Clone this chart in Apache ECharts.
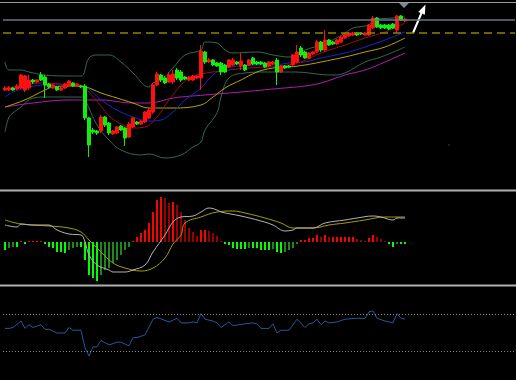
<!DOCTYPE html>
<html><head><meta charset="utf-8">
<script src="https://cdn.jsdelivr.net/npm/echarts@6/dist/echarts.min.js"></script>
<style>html,body{margin:0;padding:0;background:#000;}#c{width:516px;height:380px;}</style>
</head><body><div id="c"></div>
<script>
// ---- data (unlabelled price scale) ----
const slotCount = 128;
const categories = Array.from({length: slotCount}, (_, i) => 'B' + (i + 1));

// candles: [open, close, low, high]
const ohlc = [
[100,102,99,104],[100,102,99,104],[102,100,99,103],[101,104,100,106],[102,115,101,116],
[100,114,98,115],[102,110,100,115],[110,108,106,111],[108,110,107,111],[115,110,109,118],
[113,105,92,115],[106,103,102,107],[102,105,101,106],[103,100,99,104],[100,102,99,103],
[102,106,101,107],[104,109,103,110],[107,104,103,108],[104,106,103,107],[104,103,102,105],
[104,72,70,106],[72,45,33,73],[60,58,56,62],[59,57,55,60],[59,73,57,75],
[73,65,63,74],[67,57,55,68],[56,59,55,60],[57,63,56,64],[64,60,59,65],
[62,52,44,63],[53,66,52,68],[63,72,62,73],[68,66,65,69],[66,69,65,70],
[68,78,67,79],[72,80,71,82],[78,105,76,107],[105,116,104,118],[115,110,108,116],
[112,107,106,114],[108,115,107,118],[108,116,106,120],[120,112,110,122],[118,110,108,120],
[113,111,110,114],[110,113,109,114],[110,114,109,115],[112,114,111,115],[112,139,100,145],
[138,128,126,139],[128,130,127,132],[130,125,124,131],[127,124,123,128],[127,118,115,128],
[125,118,117,126],[123,130,122,131],[125,130,124,132],[128,126,125,129],[124,129,120,137],
[125,120,119,126],[125,130,124,131],[132,126,125,133],[128,126,125,129],[128,126,125,129],
[127,123,122,128],[124,128,123,129],[126,128,125,129],[130,118,105,132],[118,124,117,125],
[124,122,121,125],[124,123,122,125],[125,135,124,136],[128,138,127,145],[142,135,133,144],
[138,132,131,139],[132,137,131,138],[136,138,135,139],[138,148,137,150],[148,140,138,149],
[140,150,138,160],[150,145,144,151],[148,146,145,149],[146,150,145,151],[148,153,147,154],
[152,156,151,157],[154,157,153,158],[155,157,154,158],[157,155,154,158],[157,156,155,158],
[155,157,154,158],[155,165,154,166],[162,172,161,174],[172,163,162,173],[165,162,161,166],
[165,162,161,166],[165,161,160,166],[166,162,161,167],[160,174,157,175],[174,170,169,175],
[169,171,168,172]
];

// overlay lines: [barIndex, value]
const bbUpper = [[0,128],[1,120],[4,120],[6,118],[10,115],[16,114],[19,114],[21,132],[23,135],[26,135],
[29,128],[32,117],[36,103],[37,107],[39,110],[42,122],[45,135],[49,140],[50,148],[53,147],[55,140],
[57,137],[63,138],[67,135],[71,133],[75,140],[79,145],[81,148],[85,157],[87,162],[91,165],[92,170],
[97,172],[100,173]];
const bbLower = [[0,58],[1,73],[2,77],[4,83],[7,92],[10,93],[19,93],[20,90],[23,65],[26,50],[29,40],
[34,35],[36,36],[40,32],[44,35],[47,43],[49,48],[50,60],[53,77],[54,93],[56,112],[60,117],[65,118],
[72,118],[82,115],[85,117],[90,128],[94,133],[100,143]];
const maRed = [[0,102],[4,104],[9,107],[14,106],[19,105],[21,98],[24,84],[26,74],[29,66],[32,62],
[35,63],[38,73],[41,90],[44,105],[46,112],[49,116],[54,119],[61,122],[69,124],[74,128],[79,137],
[85,145],[90,152],[95,158],[100,167]];
const maBlue = [[0,93],[2,98],[6,103],[10,105],[16,105],[20,103],[24,90],[28,80],[32,73],[36,69],
[39,70],[42,78],[45,90],[49,102],[52,115],[55,122],[59,124],[63,125],[67,125],[71,127],[75,128],
[79,132],[85,137],[90,143],[95,150],[100,158]];
const maYellow = [[0,83],[3,87],[6,92],[10,100],[12,103],[16,104],[20,103],[24,97],[28,92],[32,87],
[36,82],[42,82],[49,85],[52,93],[55,102],[59,110],[63,118],[67,122],[71,123],[75,125],[79,128],
[85,133],[90,138],[95,143],[100,152]];
const maMagenta = [[0,83],[7,87],[16,90],[24,90],[32,87],[36,87],[42,92],[50,95],[59,98],[67,101],
[75,104],[79,107],[85,115],[90,120],[95,128],[100,137]];
const levelGray = 170;
const levelDashed = 157;

// MACD pane
const macdHist = [-8,-6,-5,-5,1,-2,1,1,1,1,-2,-5,-6,-10,-10,-11,-8,-6,-5,-5,
-18,-33,-36,-39,-33,-28,-26,-21,-18,-13,-8,-5,1,5,9,12,19,30,42,45,
44,39,40,37,30,22,14,10,6,12,12,11,9,6,1,-2,-3,-6,-7,-7,
-7,-6,-6,-6,-8,-8,-8,-7,-10,-11,-10,-8,-6,-2,2,2,4,4,7,5,
7,5,5,5,5,5,5,5,3,2,1,4,7,5,3,1,-2,-5,-2,-2,-2];
const macdMain = [[0,17],[3,15],[4,18],[7,17],[11,17],[13,12],[16,8],[19,7],[20,0],[21,-13],[23,-23],
[26,-28],[27,-30],[30,-30],[32,-28],[35,-23],[37,-10],[40,7],[42,20],[44,25],[47,26],[49,30],[51,34],
[53,32],[54,30],[59,26],[64,21],[67,17],[70,11],[72,12],[73,14],[77,14],[80,19],[85,22],[88,24],
[92,26],[94,25],[97,22],[98,24],[100,24]];
const macdSignal = [[0,22],[4,18],[11,16],[16,14],[19,10],[21,2],[24,-10],[27,-21],[30,-26],[34,-29],
[37,-26],[40,-16],[42,-2],[44,7],[45,19],[49,25],[53,30],[57,31],[60,29],[65,24],[69,19],[72,14],
[77,14],[81,17],[85,19],[90,22],[95,25],[100,25]];

// oscillator pane (0-100)
const rsi = [[0,55],[1,55],[2,56],[4,63],[5,55],[6,59],[7,56],[9,59],[10,54],[11,54],[13,50],[15,50],
[16,56],[17,53],[19,53],[20,34],[21,25],[22,35],[23,35],[24,42],[26,37],[28,40],[29,40],[31,36],[32,45],
[33,45],[35,48],[37,65],[38,67],[41,62],[43,66],[44,61],[46,61],[47,62],[48,61],[49,71],[50,65],[52,63],
[53,61],[54,56],[56,62],[57,58],[60,60],[62,61],[63,60],[64,55],[66,55],[67,60],[68,50],[69,53],[71,53],
[73,65],[75,56],[76,60],[77,61],[78,65],[79,59],[80,63],[81,61],[83,62],[85,65],[88,66],[90,66],[91,73],
[92,74],[93,66],[95,63],[96,62],[97,61],[98,71],[99,66],[100,65]];
const rsiLevels = [70, 30];

// ---- chart ----
const histData = macdHist.map((v, i) => {
  const p = i ? macdHist[i - 1] : v;
  let c;
  if (v >= 0) c = v >= p ? '#ff0000' : '#990000';
  else c = v <= p ? '#00ff00' : '#1a8a1a';
  return {value: v, itemStyle: {color: c}};
});

function xa(g){return {type:'category', data:categories, gridIndex:g, show:false, boundaryGap:true};}
function ln(data, color, xi, yi, smooth){
  return {type:'line', data:data, xAxisIndex:xi, yAxisIndex:yi, showSymbol:false, symbol:'none',
    smooth:smooth, lineStyle:{color:color, width:1}, silent:true, z:3};
}

const chart = echarts.init(document.getElementById('c'), null, {renderer:'canvas'});
chart.setOption({
  backgroundColor:'#000000',
  animation:false,
  grid:[
    {left:3, right:1, top:3, height:186},
    {left:3, right:1, top:193, height:91},
    {left:3, right:1, top:287, height:92}
  ],
  xAxis:[xa(0), xa(1), xa(2)],
  yAxis:[
    {type:'value', gridIndex:0, min:1, max:187, show:false},
    {type:'value', gridIndex:1, min:-42, max:49, show:false},
    {type:'value', gridIndex:2, min:0, max:100, show:false}
  ],
  series:[
    ln(bbUpper, '#2f6b4c', 0, 0, 0.4),
    ln(bbLower, '#2f6b4c', 0, 0, 0.4),
    ln(maMagenta, '#b21cb2', 0, 0, 0.4),
    ln(maYellow, '#b8a400', 0, 0, 0.4),
    ln(maBlue, '#1e22c8', 0, 0, 0.4),
    ln(maRed, '#9a1010', 0, 0, 0.4),
    {
      type:'candlestick', data:ohlc, xAxisIndex:0, yAxisIndex:0, barWidth:3, z:4,
      itemStyle:{color:'#ff1010', color0:'#10ee10', borderColor:'#ff1010', borderColor0:'#10ee10', borderWidth:1},
      markLine:{symbol:'none', silent:true, label:{show:false}, animation:false,
        data:[
          {yAxis:levelGray, lineStyle:{color:'#6e7684', width:1.5, type:'solid'}},
          {yAxis:levelDashed, lineStyle:{color:'#8f8200', width:1.5, type:[8,5]}}
        ]}
    },
    {type:'bar', data:histData, xAxisIndex:1, yAxisIndex:1, barWidth:2, silent:true},
    ln(macdSignal, '#a89e00', 1, 1, 0.4),
    ln(macdMain, '#b4b4b4', 1, 1, 0.4),
    {
      type:'line', data:rsi, xAxisIndex:2, yAxisIndex:2, showSymbol:false, symbol:'none', silent:true,
      lineStyle:{color:'#1f5a9c', width:1},
      markLine:{symbol:'none', silent:true, label:{show:false}, animation:false,
        lineStyle:{color:'#8a8a8a', width:1, type:[1,2]},
        data: rsiLevels.map(v => ({yAxis:v}))}
    }
  ],
  graphic:[
    {type:'line', shape:{x1:0,y1:2.5,x2:516,y2:2.5}, style:{stroke:'#9a9a9a', lineWidth:1}, silent:true},
    {type:'line', shape:{x1:0,y1:190.5,x2:516,y2:190.5}, style:{stroke:'#b0b0b0', lineWidth:2}, silent:true},
    {type:'line', shape:{x1:0,y1:285.5,x2:516,y2:285.5}, style:{stroke:'#b0b0b0', lineWidth:2}, silent:true},
    {type:'polygon', shape:{points:[[399,3],[409,3],[404,8]]}, style:{fill:'#7d8a96'}, silent:true},
    {type:'line', shape:{x1:413,y1:33,x2:421.5,y2:13}, style:{stroke:'#ffffff', lineWidth:2}, silent:true},
    {type:'polygon', shape:{points:[[425.5,4.5],[424.8,14.8],[418.2,12]]}, style:{fill:'#ffffff'}, silent:true},
    {type:'circle', shape:{cx:449,cy:145,r:0.7}, style:{fill:'#555555'}, silent:true}
  ]
});
</script></body></html>
